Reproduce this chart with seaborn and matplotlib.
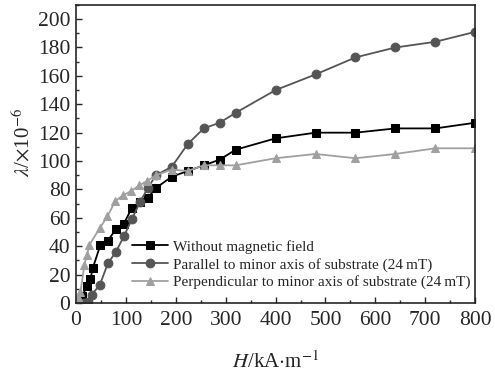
import numpy as np
import pandas as pd
import matplotlib
matplotlib.use('Agg')
import matplotlib.pyplot as plt
import seaborn as sns
from matplotlib.ticker import MultipleLocator

# ---------------------------
# datos
# ---------------------------
h_sin = [12, 23, 29, 34, 49, 64, 80, 96, 112, 128, 144, 160, 192, 224, 256, 288, 320, 400, 480, 560, 640, 720, 800]
l_sin = [5, 12, 17, 25, 41, 44, 52, 56, 67, 71, 74, 81, 89, 93, 97, 101, 108, 116, 120, 120, 123, 123, 127]

h_par = [0, 8, 16, 24, 32, 48, 64, 80, 96, 112, 128, 144, 160, 192, 224, 256, 288, 320, 400, 480, 560, 640, 720, 800]
l_par = [0, 0, 0, 1, 6, 13, 28, 36, 47, 59, 71, 81, 90, 96, 112, 123, 127, 134, 150, 161, 173, 180, 184, 191]

h_per = [4, 9, 17, 22, 27, 48, 63, 79, 95, 111, 127, 143, 160, 192, 224, 256, 288, 320, 400, 480, 560, 640, 720, 800]
l_per = [4, 8, 27, 34, 41, 53, 61, 72, 76, 79, 83, 86, 90, 94, 93, 97, 97, 97, 102, 105, 102, 105, 109, 109]

etiquetas = ['Without magnetic field',
             'Parallel to minor axis of substrate (24\u2009mT)',
             'Perpendicular to minor axis of substrate (24\u2009mT)']

sns.set_style('ticks')
plt.rcParams['font.family'] = ['Liberation Serif', 'DejaVu Serif']
plt.rcParams['mathtext.fontset'] = 'stix'
plt.rcParams['xtick.direction'] = 'in'
plt.rcParams['ytick.direction'] = 'in'

fig = plt.figure(figsize=(4.95, 3.76), dpi=100)
ax = fig.add_axes([0.1535, 0.194, 0.8065, 0.793])

sns.lineplot(x=h_sin, y=l_sin, ax=ax, color='black', marker='s', markersize=5.3,
             markeredgecolor='black', linewidth=1.3, label=etiquetas[0])
sns.lineplot(x=h_par, y=l_par, ax=ax, color='#555555', marker='o', markersize=6.3,
             markeredgecolor='#555555', linewidth=1.3, label=etiquetas[1])
sns.lineplot(x=h_per, y=l_per, ax=ax, color='#a0a0a0', marker='^', markersize=5.3,
             markeredgecolor='#a0a0a0', linewidth=1.3, label=etiquetas[2])

ax.set_xlim(0, 800)
ax.set_ylim(0, 210)
ax.xaxis.set_major_locator(MultipleLocator(100))
ax.xaxis.set_minor_locator(MultipleLocator(50))
ax.yaxis.set_major_locator(MultipleLocator(20))
ax.yaxis.set_minor_locator(MultipleLocator(10))
ax.tick_params(which='major', length=4, width=1, labelsize=15.5)
ax.tick_params(axis='x', which='major', pad=6)
ax.tick_params(axis='y', which='major', pad=4)
ax.tick_params(which='minor', length=2.5, width=1)
for s in ax.spines.values():
    s.set_linewidth(1.2)

ax.set_xlabel(r'$H$/kA$\cdot$m$^{-1}$', fontsize=15, labelpad=15)
ax.set_ylabel(r'$\lambda$/$\times$10$^{-6}$', fontsize=15, labelpad=0)
ax.yaxis.set_label_coords(-0.105, 0.54)

ax.legend(loc='lower left', bbox_to_anchor=(0.105, 0.0), frameon=False,
          fontsize=11, handlelength=2.4, labelspacing=0.25, handletextpad=0.3)

fig.savefig('out.png', dpi=100)
